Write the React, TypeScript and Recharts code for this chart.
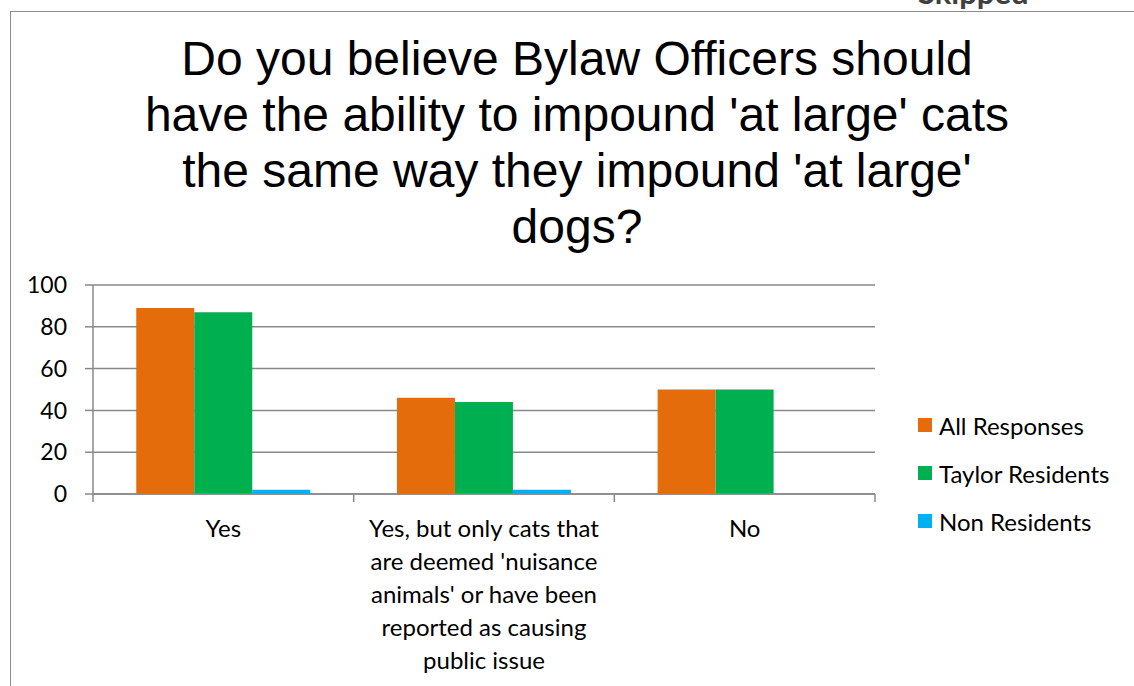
import React from "react";
import { BarChart, Bar, XAxis, YAxis, CartesianGrid } from "recharts";

const categories = [
  "Yes",
  "Yes, but only cats that are deemed 'nuisance animals' or have been reported as causing public issue",
  "No",
];
const categoryLines = [
  ["Yes"],
  ["Yes, but only cats that", "are deemed 'nuisance", "animals' or have been", "reported as causing", "public issue"],
  ["No"],
];
const allResponses = [89, 46, 50];
const taylorResidents = [87, 44, 50];
const nonResidents = [2, 2, 0];
const yTicks = [0, 20, 40, 60, 80, 100];
const seriesNames = ["All Responses", "Taylor Residents", "Non Residents"];
const seriesColors = ["#E46C0A", "#00B050", "#00B0F0"];
const titleLines = [
  "Do you believe Bylaw Officers should",
  "have the ability to impound 'at large' cats",
  "the same way they impound 'at large'",
  "dogs?",
];

const data = categories.map((c, i) => ({
  name: c,
  all: allResponses[i],
  taylor: taylorResidents[i],
  non: nonResidents[i],
}));

const FONT = "Lato, 'Noto Sans', sans-serif";
const GRID = "#898989";

function XTick(props: any) {
  const { x, y, payload } = props;
  const idx = categories.indexOf(payload.value);
  const lines = categoryLines[idx] || [String(payload.value)];
  const half = payload.offset || 130;
  return (
    <g>
      <line x1={x - half} y1={y} x2={x - half} y2={y + 8} stroke={GRID} strokeWidth={1.5} />
      {idx === categories.length - 1 && (
        <line x1={x + half} y1={y} x2={x + half} y2={y + 8} stroke={GRID} strokeWidth={1.5} />
      )}
      {lines.map((l, i) => (
        <text
          key={i}
          x={x}
          y={y + 43 + i * 33}
          textAnchor="middle"
          fontFamily={FONT}
          fontSize={24}
          fill="#000"
        >
          {l}
        </text>
      ))}
    </g>
  );
}

export default function App() {
  return (
    <div
      style={{
        position: "absolute",
        left: 0,
        top: 0,
        width: 1134,
        height: 686,
        overflow: "hidden",
        background: "#fff",
      }}
    >
      <div
        style={{
          position: "absolute",
          left: 10,
          top: 11,
          right: -5,
          bottom: -5,
          borderTop: "1.5px solid #8c8c8c",
          borderLeft: "1.5px solid #8c8c8c",
        }}
      />
      <div
        style={{
          position: "absolute",
          left: 918,
          top: -26,
          fontFamily: FONT,
          fontWeight: 700,
          fontSize: 31,
          lineHeight: 1.2,
          color: "#404040",
        }}
      >
        Skipped
      </div>
      <div
        style={{
          position: "absolute",
          left: 0,
          width: 1154,
          top: 31,
          textAlign: "center",
          fontFamily: "'Liberation Sans', Arial, sans-serif",
          fontSize: 48,
          lineHeight: "56px",
          color: "#000",
        }}
      >
        {titleLines.map((t, i) => (
          <div key={i}>{t}</div>
        ))}
      </div>
      <div
        style={{
          position: "absolute",
          left: 918,
          top: 401,
          fontFamily: FONT,
          fontSize: 24,
          color: "#000",
        }}
      >
        {seriesNames.map((n, i) => (
          <div key={n} style={{ display: "flex", alignItems: "center", height: 48 }}>
            <div style={{ width: 14, height: 14, background: seriesColors[i], marginRight: 7 }} />
            <span>{n}</span>
          </div>
        ))}
      </div>
      <div style={{ position: "absolute", left: 0, top: 0 }}>
        <BarChart
          width={1134}
          height={686}
          data={data}
          margin={{ top: 285, right: 259, bottom: 0, left: 33 }}
          barCategoryGap="16.6%"
          barGap={0}
        >
          <CartesianGrid vertical={false} stroke={GRID} strokeWidth={1.5} />
          <XAxis
            dataKey="name"
            height={192}
            tickLine={false}
            tickSize={0}
            tickMargin={0}
            axisLine={{ stroke: GRID, strokeWidth: 1.5 }}
            tick={<XTick />}
            interval={0}
          />
          <YAxis
            width={60}
            domain={[0, 100]}
            ticks={yTicks}
            tickSize={8}
            tickMargin={18}
            tickLine={{ stroke: GRID, strokeWidth: 1.5 }}
            axisLine={{ stroke: GRID, strokeWidth: 1.5 }}
            tick={{ fontFamily: FONT, fontSize: 23, fill: "#000" }}
          />
          <Bar dataKey="all" name={seriesNames[0]} fill={seriesColors[0]} isAnimationActive={false} />
          <Bar dataKey="taylor" name={seriesNames[1]} fill={seriesColors[1]} isAnimationActive={false} />
          <Bar dataKey="non" name={seriesNames[2]} fill={seriesColors[2]} isAnimationActive={false} />
        </BarChart>
      </div>
    </div>
  );
}
